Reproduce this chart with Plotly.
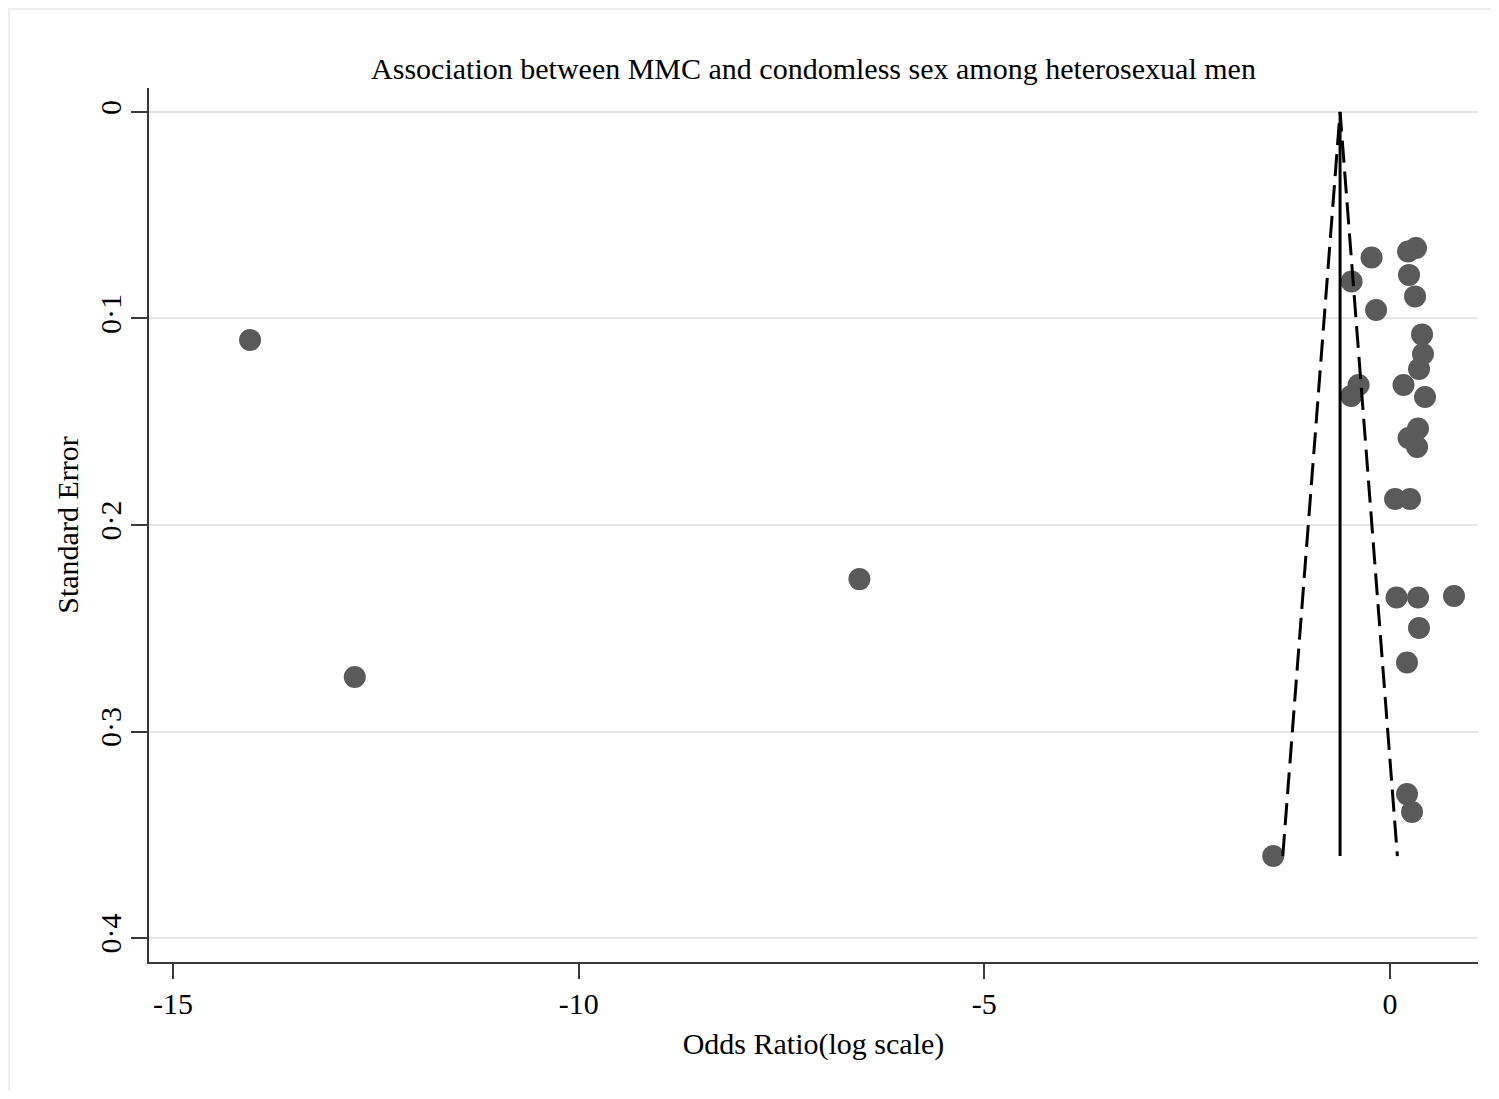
import plotly.graph_objects as go

# ---- data (log odds ratio, standard error) ----
log_or = [-14.05, -12.76, -6.54, -1.44,
          -0.228, -0.474, 0.222, 0.320, 0.234, 0.308, -0.172, 0.394, 0.406, 0.357,
          -0.388, -0.480, 0.166, 0.431, 0.345, 0.228, 0.333, 0.062, 0.246,
          0.080, 0.345, 0.788, 0.357, 0.209, 0.209, 0.271]
std_err = [0.1104, 0.2736, 0.2262, 0.3603,
           0.0705, 0.0821, 0.0676, 0.0659, 0.0789, 0.0893, 0.0959, 0.1077, 0.1172, 0.1245,
           0.1322, 0.1375, 0.1322, 0.1380, 0.1533, 0.1579, 0.1622, 0.1874, 0.1874,
           0.2351, 0.2351, 0.2344, 0.2499, 0.2666, 0.3303, 0.3390]
pooled = -0.616
z = 1.96
se_max = max(std_err)

x_tickvals = [-15, -10, -5, 0]
x_ticktext = ["-15", "-10", "-5", "0"]
y_tickvals = [0, 0.1, 0.2, 0.3, 0.4]
y_ticktext = ["0", "0·1", "0·2", "0·3", "0·4"]

title_text = "Association between MMC and condomless sex among heterosexual men"
x_title = "Odds Ratio(log scale)"
y_title = "Standard Error"

FONT = "Liberation Serif, Times New Roman, serif"
AXIS_COL = "#3a3a3a"
FS = 30

fig = go.Figure()

# study points
fig.add_trace(go.Scatter(
    x=log_or, y=std_err, mode="markers",
    marker=dict(size=22, color="#5a5a5a", line=dict(width=0)),
    showlegend=False, hoverinfo="x+y"))

# pseudo 95% confidence limits
fig.add_trace(go.Scatter(
    x=[pooled - z * se_max, pooled, pooled + z * se_max],
    y=[se_max, 0, se_max], mode="lines",
    line=dict(color="black", width=3, dash="22px,9px"),
    showlegend=False, hoverinfo="skip"))

# pooled estimate
fig.add_trace(go.Scatter(
    x=[pooled, pooled], y=[0, se_max], mode="lines",
    line=dict(color="black", width=3),
    showlegend=False, hoverinfo="skip"))

W, H = 1483, 1083
ML, MR, MT, MB = 141, 13, 80, 129
pw = W - ML - MR
ph = H - MT - MB

fig.update_layout(
    width=W, height=H,
    margin=dict(l=ML, r=MR, t=MT, b=MB, pad=0),
    paper_bgcolor="white", plot_bgcolor="white",
    font=dict(family=FONT, size=FS, color="black"),
    title=dict(text=title_text, x=0.5, xref="paper", xanchor="center",
               y=1 - 60 / H, yref="container", yanchor="middle",
               font=dict(family=FONT, size=30, color="black")),
    xaxis=dict(range=[-15.296, 1.084], tickvals=x_tickvals, ticktext=x_ticktext,
               showgrid=False, zeroline=False,
               showline=True, linecolor=AXIS_COL, linewidth=2,
               ticks="outside", ticklen=15, tickwidth=2, tickcolor=AXIS_COL,
               ticklabelstandoff=-1,
               tickfont=dict(family=FONT, size=FS, color="black"),
               title=dict(text=x_title, standoff=14,
                          font=dict(family=FONT, size=FS, color="black"))),
    yaxis=dict(range=[0.4116, -0.0116], tickvals=y_tickvals, ticktext=y_ticktext,
               showgrid=True, gridcolor="#e6e6e6", gridwidth=2, zeroline=False,
               showline=True, linecolor=AXIS_COL, linewidth=2,
               ticks="outside", ticklen=16, tickwidth=2, tickcolor=AXIS_COL,
               tickangle=-90, ticklabelstandoff=-2,
               tickfont=dict(family=FONT, size=FS, color="black"),
               title=dict(text=y_title, standoff=7,
                          font=dict(family=FONT, size=FS, color="black"))),
    shapes=[
        dict(type="line", xref="paper", yref="paper",
             x0=-ML / pw, x1=1 + MR / pw, y0=1 + (MT - 0.5) / ph, y1=1 + (MT - 0.5) / ph,
             line=dict(color="#eeeeee", width=3)),
        dict(type="line", xref="paper", yref="paper",
             x0=(0.5 - ML) / pw, x1=(0.5 - ML) / pw, y0=-MB / ph, y1=1 + MT / ph,
             line=dict(color="#eeeeee", width=3)),
    ],
)

fig.write_html("out.html")
